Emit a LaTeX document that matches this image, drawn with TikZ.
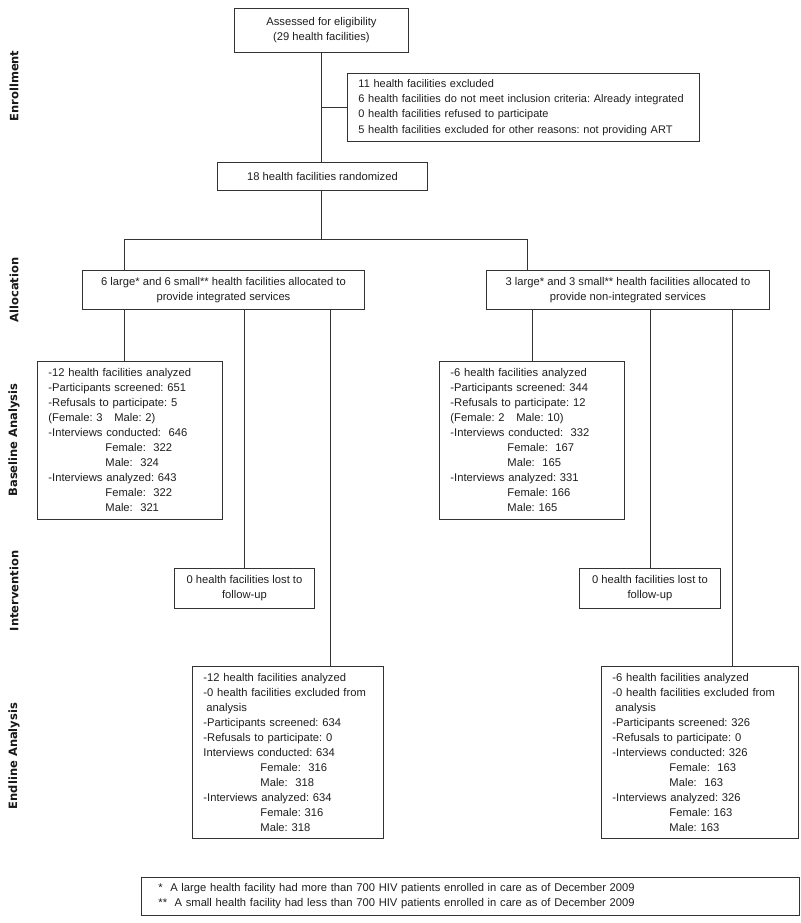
\documentclass[tikz,border=0pt]{standalone}
\usepackage{fontspec}
\setmainfont{Liberation Sans}
\newfontfamily\labelfont{DejaVu Sans}
\usetikzlibrary{calc}
\frenchspacing
\begin{document}
\frenchspacing
\begin{tikzpicture}[x=1pt,y=-1pt,
  box/.style={draw=black!80, line width=0.9pt, anchor=north west, inner sep=0pt,
              font=\fontsize{11.2}{15}\selectfont, text=black!88},
  lbox/.style={box, align=left},
  cbox/.style={box, align=center},
  conn/.style={draw=black!80, line width=0.9pt},
  side/.style={rotate=90, font=\labelfont\bfseries\fontsize{11.5}{13}\selectfont, text=black!90}]
\useasboundingbox[fill=white] (0,0) rectangle (800,923);

% side labels
\node[side] (lEnr) at (14,86) {Enrollment};
\node[side] (lAll) at (14,290) {Allocation};
\node[side] (lBas) at (14,440) {Baseline Analysis};
\node[side] (lInt) at (14,591) {Intervention};
\node[side] (lEnd) at (14,756) {Endline Analysis};

% boxes
\node[cbox, minimum width=174pt, minimum height=44pt] (top) at (234,8)
  {Assessed for eligibility\\(29 health facilities)};
\node[lbox, minimum width=352pt, minimum height=68pt, text width=330pt,
      font=\fontsize{11}{15.3}\selectfont] (excl) at (347,73)
  {11 health facilities excluded\\
   6 health facilities do not meet inclusion criteria: Already integrated\\
   0 health facilities refused to participate\\
   5 health facilities excluded for other reasons: not providing ART};
\node[cbox, minimum width=210pt, minimum height=28pt] (rand) at (217,162)
  {18 health facilities randomized};

\node[cbox, minimum width=282pt, minimum height=39pt] (allocL) at (82,270)
  {6 large* and 6 small** health facilities allocated to\\provide integrated services};
\node[cbox, minimum width=283pt, minimum height=39pt] (allocR) at (486,270)
  {3 large* and 3 small** health facilities allocated to\\provide non-integrated services};

\node[lbox, minimum width=185pt, minimum height=158pt, text width=163pt] (baseL) at (37,361)
  {-12 health facilities analyzed\\
   -Participants screened: 651\\
   -Refusals to participate: 5\\
   (Female: 3 \hspace{8pt}Male: 2)\\
   -Interviews conducted:~~646\\
   \hspace*{57pt}Female:~~322\\
   \hspace*{57pt}Male:~~324\\
   -Interviews analyzed: 643\\
   \hspace*{57pt}Female:~~322\\
   \hspace*{57pt}Male:~~321};
\node[lbox, minimum width=185pt, minimum height=158pt, text width=163pt] (baseR) at (439,361)
  {-6 health facilities analyzed\\
   -Participants screened: 344\\
   -Refusals to participate: 12\\
   (Female: 2 \hspace{8pt}Male: 10)\\
   -Interviews conducted:~~332\\
   \hspace*{57pt}Female:~~167\\
   \hspace*{57pt}Male:~~165\\
   -Interviews analyzed: 331\\
   \hspace*{57pt}Female: 166\\
   \hspace*{57pt}Male: 165};

\node[cbox, minimum width=140pt, minimum height=40pt] (intL) at (174,568)
  {0 health facilities lost to\\follow-up};
\node[cbox, minimum width=141pt, minimum height=40pt] (intR) at (579,568)
  {0 health facilities lost to\\follow-up};

\node[lbox, minimum width=191pt, minimum height=172pt, text width=169pt] (endL) at (192,666)
  {-12 health facilities analyzed\\
   -0 health facilities excluded from\\
   \hspace*{3pt}analysis\\
   -Participants screened: 634\\
   -Refusals to participate: 0\\
   Interviews conducted: 634\\
   \hspace*{57pt}Female:~~316\\
   \hspace*{57pt}Male:~~318\\
   -Interviews analyzed: 634\\
   \hspace*{57pt}Female: 316\\
   \hspace*{57pt}Male: 318};
\node[lbox, minimum width=197pt, minimum height=172pt, text width=175pt] (endR) at (601,666)
  {-6 health facilities analyzed\\
   -0 health facilities excluded from\\
   \hspace*{3pt}analysis\\
   -Participants screened: 326\\
   -Refusals to participate: 0\\
   -Interviews conducted: 326\\
   \hspace*{57pt}Female:~~163\\
   \hspace*{57pt}Male:~~163\\
   -Interviews analyzed: 326\\
   \hspace*{57pt}Female: 163\\
   \hspace*{57pt}Male: 163};

\node[lbox, minimum width=658pt, minimum height=38pt, text width=624pt] (foot) at (141,877)
  {*~~A large health facility had more than 700 HIV patients enrolled in care as of December 2009\\
   \relax**~~A small health facility had less than 700 HIV patients enrolled in care as of December 2009};

% connectors
\coordinate (sL) at (124,239);
\coordinate (sR) at (527,239);
\coordinate (eL) at (330,0);
\coordinate (eR) at (732,0);
\draw[conn] (top.south) -- (top.south |- rand.north);
\draw[conn] (top.south |- excl.west) -- (excl.west);
\draw[conn] (top.south |- rand.south) -- (top.south |- sL);
\draw[conn] (sL) -- (sR);
\draw[conn] (sL) -- (sL |- allocL.north);
\draw[conn] (sR) -- (sR |- allocR.north);
\draw[conn] (allocL.south -| sL) -- (baseL.north -| sL);
\draw[conn] (allocL.south -| intL.north) -- (intL.north);
\draw[conn] (allocL.south -| eL) -- (endL.north -| eL);
\draw[conn] (allocR.south -| baseR.north) -- (baseR.north);
\draw[conn] (allocR.south -| intR.north) -- (intR.north);
\draw[conn] (allocR.south -| eR) -- (endR.north -| eR);
\end{tikzpicture}
\end{document}
